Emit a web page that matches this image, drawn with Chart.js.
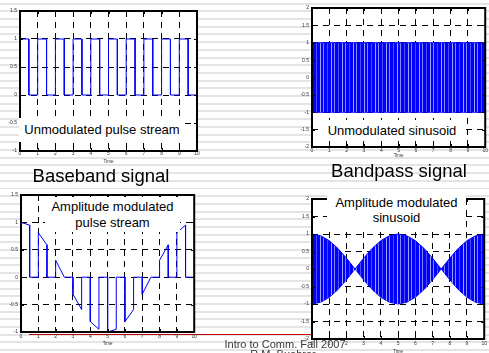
<!DOCTYPE html>
<html><head><meta charset="utf-8">
<script src="https://cdn.jsdelivr.net/npm/chart.js@4.4.0/dist/chart.umd.min.js"></script>
<style>
html,body{margin:0;padding:0;width:489px;height:353px;overflow:hidden;}
body{position:relative;background:repeating-linear-gradient(180deg,#fff 0px,#fff 2.7px,#e4e4e4 2.7px,#e4e4e4 4.7px,#fff 4.7px,#fff 7.7px);font-family:"Liberation Sans",Arial,sans-serif;}
canvas{position:absolute;}
.box{position:absolute;background:#fff;color:#000;font-size:13px;text-align:center;white-space:nowrap;}
.title{position:absolute;font-size:18.5px;line-height:20px;color:#000;white-space:nowrap;transform:translateX(-50%);}
.foot{position:absolute;font-size:11px;line-height:13px;color:#383838;white-space:nowrap;transform:translateX(-50%);}
.red{position:absolute;left:29px;top:334px;width:290px;height:1px;background:#c80000;}
</style></head>
<body>
<div class="red"></div>
<canvas id="c1" width="200" height="165" style="left:0;top:0"></canvas>
<canvas id="c2" width="199" height="159" style="left:290px;top:0"></canvas>
<canvas id="c3" width="199" height="167" style="left:0;top:180px"></canvas>
<canvas id="c4" width="199" height="170" style="left:290px;top:185px"></canvas>

<div class="box" style="left:19px;top:118px;width:166px;height:24px;line-height:24px;">Unmodulated pulse stream</div>
<div class="box" style="left:322px;top:120px;width:140px;height:21px;line-height:21px;">Unmodulated sinusoid</div>
<div class="box" style="left:45px;top:197px;width:135px;height:35px;padding-top:2px;box-sizing:border-box;line-height:15.6px;">Amplitude modulated<br>pulse stream</div>
<div class="box" style="left:327px;top:195px;width:139px;height:32px;line-height:15.4px;">Amplitude modulated<br>sinusoid</div>

<div class="title" style="left:101px;top:165.5px;">Baseband signal</div>
<div class="title" style="left:399px;top:161px;">Bandpass signal</div>

<div class="foot" style="left:285px;top:338px;">Intro to Comm. Fall 2007</div>
<div class="foot" style="left:283px;top:348px;">R.M. Buehrer</div>

<script>
// ---- data ----
const timeTicks = [0,1,2,3,4,5,6,7,8,9,10];
const pulseYTicks = [-1,-0.5,0,0.5,1,1.5];
const sineYTicks = [-2,-1.5,-1,-0.5,0,0.5,1,1.5,2];

const pulseStarts = [0,1,2,3,4,5,6,7,8,9,10];
const pulseWidth = 0.5;
const unmodPulseStart = [1,1,1,1,1,1,1,1,1,1,1];
const unmodPulseEnd   = [1,1,1,1,1,1,1,1,1,1];
const amPulseStart = [1,0.81,0.31,-0.31,-0.81,-1,-0.81,-0.31,0.31,0.81,1];
const amPulseEnd   = [0.95,0.59,0,-0.59,-0.95,-0.95,-0.59,0,0.59,0.95];

const carrierTimes = [0,10];
const carrierUpper = [1,1];
const carrierLower = [-1,-1];

const amTimes = [0,0.5,1,1.5,2,2.5,3,3.5,4,4.5,5,5.5,6,6.5,7,7.5,8,8.5,9,9.5,10];
const amUpper = [1,0.95,0.81,0.59,0.31,0,0.31,0.59,0.81,0.95,1,0.95,0.81,0.59,0.31,0,0.31,0.59,0.81,0.95,1];
const amLower = [-1,-0.95,-0.81,-0.59,-0.31,0,-0.31,-0.59,-0.81,-0.95,-1,-0.95,-0.81,-0.59,-0.31,0,-0.31,-0.59,-0.81,-0.95,-1];

// ---- helpers ----
const FONT = '"Liberation Sans", Arial, sans-serif';
const BLUE = '#0000ff';

function pulsePoints(starts, ends){
  const pts = [];
  pulseStarts.forEach((t,i)=>{
    if(i>0) pts.push({x:t,y:0});
    pts.push({x:t,y:starts[i]});
    if(i<ends.length){
      pts.push({x:t+pulseWidth,y:ends[i]});
      pts.push({x:t+pulseWidth,y:0});
    }
  });
  return pts;
}
function zipPts(xs, ys){ return xs.map((x,i)=>({x:x,y:ys[i]})); }

function stripePattern(){
  const c = document.createElement('canvas'); c.width = 11; c.height = 4;
  const g = c.getContext('2d');
  g.fillStyle = BLUE; g.fillRect(0,0,11,4);
  g.fillStyle = '#8585ff'; g.fillRect(0,0,1,4);
  g.fillStyle = '#4a4aff'; g.fillRect(4,0,1,4);
  g.fillStyle = '#a0a0ff'; g.fillRect(8,0,1,4);
  return g.createPattern(c,'repeat');
}

const framePlugin = {
  id:'frame',
  beforeDraw(chart){
    const a = chart.chartArea, ctx = chart.ctx;
    ctx.save(); ctx.fillStyle = '#fff';
    ctx.fillRect(a.left, a.top, a.right-a.left, a.bottom-a.top);
    ctx.restore();
  },
  afterDraw(chart){
    const a = chart.chartArea, ctx = chart.ctx;
    ctx.save();
    ctx.strokeStyle = '#000'; ctx.lineWidth = 1;
    ctx.beginPath();
    chart.scales.x.ticks.forEach(t=>{
      const px = Math.round(chart.scales.x.getPixelForValue(t.value)) + 0.5;
      ctx.moveTo(px, a.bottom); ctx.lineTo(px, a.bottom-3);
      ctx.moveTo(px, a.top); ctx.lineTo(px, a.top+3);
    });
    chart.scales.y.ticks.forEach(t=>{
      const py = Math.round(chart.scales.y.getPixelForValue(t.value)) + 0.5;
      ctx.moveTo(a.left, py); ctx.lineTo(a.left+3, py);
      ctx.moveTo(a.right, py); ctx.lineTo(a.right-3, py);
    });
    ctx.stroke();
    ctx.lineWidth = 2;
    ctx.strokeRect(a.left, a.top, a.right-a.left, a.bottom-a.top);
    ctx.restore();
  }
};

function makeScales(yTicks, yw, xh, xpad){
  return {
    x:{
      type:'linear', min:0, max:10,
      afterBuildTicks:s=>{ s.ticks = timeTicks.map(v=>({value:v})); },
      afterFit:s=>{ s.height = xh; },
      grid:{color:'#000', lineWidth:1, drawTicks:false},
      border:{display:false, dash:[6,5]},
      ticks:{padding:xpad, maxRotation:0, minRotation:0, autoSkip:false, color:'#333',
             font:{size:5, family:FONT}, callback:v=>String(v)},
      title:{display:true, text:'Time', color:'#333', font:{size:4.5, family:FONT}, padding:{top:0,bottom:1}}
    },
    y:{
      type:'linear', min:yTicks[0], max:yTicks[yTicks.length-1],
      afterBuildTicks:s=>{ s.ticks = yTicks.map(v=>({value:v})); },
      afterFit:s=>{ s.width = yw; },
      grid:{color:'#000', lineWidth:1, drawTicks:false},
      border:{display:false, dash:[6,5]},
      ticks:{padding:3, autoSkip:false, color:'#333', font:{size:5, family:FONT}, callback:v=>String(v)}
    }
  };
}

function makeChart(id, datasets, yTicks, pad, yw, xh, xpad){
  return new Chart(document.getElementById(id), {
    type:'line',
    data:{datasets:datasets},
    options:{
      responsive:false, animation:false, devicePixelRatio:1, events:[],
      layout:{padding:pad},
      parsing:false,
      plugins:{legend:{display:false}, tooltip:{enabled:false}},
      scales:makeScales(yTicks, yw, xh, xpad)
    },
    plugins:[framePlugin]
  });
}

const lineStyle = {borderColor:BLUE, borderWidth:1, pointRadius:0, tension:0, fill:false};
const pat = stripePattern();

makeChart('c1', [Object.assign({data:pulsePoints(unmodPulseStart, unmodPulseEnd)}, lineStyle)],
  pulseYTicks, {left:0,right:3,top:11,bottom:0}, 20, 14, 0);

makeChart('c2', [
  {data:zipPts(carrierTimes, carrierUpper), borderColor:BLUE, borderWidth:1, pointRadius:0, fill:'+1', backgroundColor:pat},
  {data:zipPts(carrierTimes, carrierLower), borderColor:BLUE, borderWidth:1, pointRadius:0, fill:false}
], sineYTicks, {left:0,right:2,top:8,bottom:0}, 22, 12, 1);

makeChart('c3', [Object.assign({data:pulsePoints(amPulseStart, amPulseEnd)}, lineStyle)],
  pulseYTicks, {left:0,right:3,top:15,bottom:0}, 21, 15, 2);

makeChart('c4', [
  {data:zipPts(amTimes, amUpper), borderColor:BLUE, borderWidth:1, pointRadius:0, fill:'+1', backgroundColor:pat},
  {data:zipPts(amTimes, amLower), borderColor:BLUE, borderWidth:1, pointRadius:0, fill:false}
], sineYTicks, {left:0,right:2,top:14,bottom:0}, 22, 16, 2);
</script>
</body></html>
